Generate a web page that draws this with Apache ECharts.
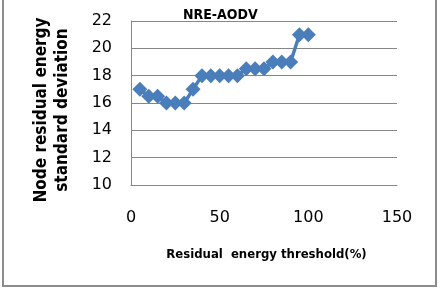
<!DOCTYPE html>
<html>
<head>
<meta charset="utf-8">
<script src="https://cdn.jsdelivr.net/npm/echarts@6/dist/echarts.min.js"></script>
<style>
  html, body { margin: 0; padding: 0; background: #fff; }
  #main { width: 442px; height: 292px; }
</style>
</head>
<body>
<div id="main"></div>
<script>
// 数据
var thresholds = [5, 10, 15, 20, 25, 30, 35, 40, 45, 50, 55, 60, 65, 70, 75, 80, 85, 90, 95, 100]
var stdDev = [17, 16.5, 16.5, 16, 16, 16, 17, 18, 18, 18, 18, 18, 18.5, 18.5, 18.5, 19, 19, 19, 21, 21]

var boldFont = 'DejaVu Sans Condensed, Liberation Sans Narrow, Liberation Sans'

var chart = echarts.init(document.getElementById('main'))

var option = {
  animation: false,
  title: {
    text: 'NRE-AODV',
    left: 178,
    top: 3,
    textStyle: {
      fontFamily: boldFont,
      fontSize: 14,
      fontWeight: 'bold',
      color: '#000'
    }
  },
  graphic: [
    {
      type: 'rect',
      shape: { x: 3, y: -5, width: 433, height: 291 },
      style: { fill: 'none', stroke: '#8c8c8c', lineWidth: 2 }
    }
  ],
  grid: {
    left: 131,
    right: 45,
    top: 21,
    bottom: 107
  },
  xAxis: {
    type: 'value',
    min: 0,
    max: 150,
    interval: 50,
    name: 'Residual  energy threshold(%)',
    nameLocation: 'middle',
    nameGap: 63,
    nameTextStyle: {
      fontFamily: boldFont,
      fontSize: 13,
      fontWeight: 'bold',
      color: '#000',
      padding: [0, 0, 0, 5]
    },
    axisLine: { show: true, lineStyle: { color: '#868686' } },
    axisTick: { show: false },
    splitLine: { show: false },
    axisLabel: {
      margin: 25,
      fontFamily: 'DejaVu Sans',
      fontSize: 16,
      color: '#000'
    }
  },
  yAxis: {
    type: 'value',
    min: 10,
    max: 22,
    interval: 2,
    name: 'Node residual energy\nstandard deviation',
    nameLocation: 'middle',
    nameGap: 58,
    nameTextStyle: {
      fontFamily: boldFont,
      fontSize: 17,
      fontWeight: 'bold',
      color: '#000',
      lineHeight: 21,
      padding: [0, 14, 0, 0]
    },
    axisLine: { show: true, lineStyle: { color: '#868686' } },
    axisTick: { show: false },
    splitLine: { show: true, lineStyle: { color: '#868686', width: 1 } },
    axisLabel: {
      margin: 19,
      fontFamily: 'DejaVu Sans',
      fontSize: 16,
      color: '#000'
    }
  },
  series: [
    {
      type: 'line',
      data: thresholds.map(function (t, i) { return [t, stdDev[i]] }),
      symbol: 'diamond',
      symbolSize: 15,
      lineStyle: { color: '#4a7ebb', width: 3.5 },
      itemStyle: { color: '#4a7ebb' }
    }
  ]
}

chart.setOption(option)
</script>
</body>
</html>
